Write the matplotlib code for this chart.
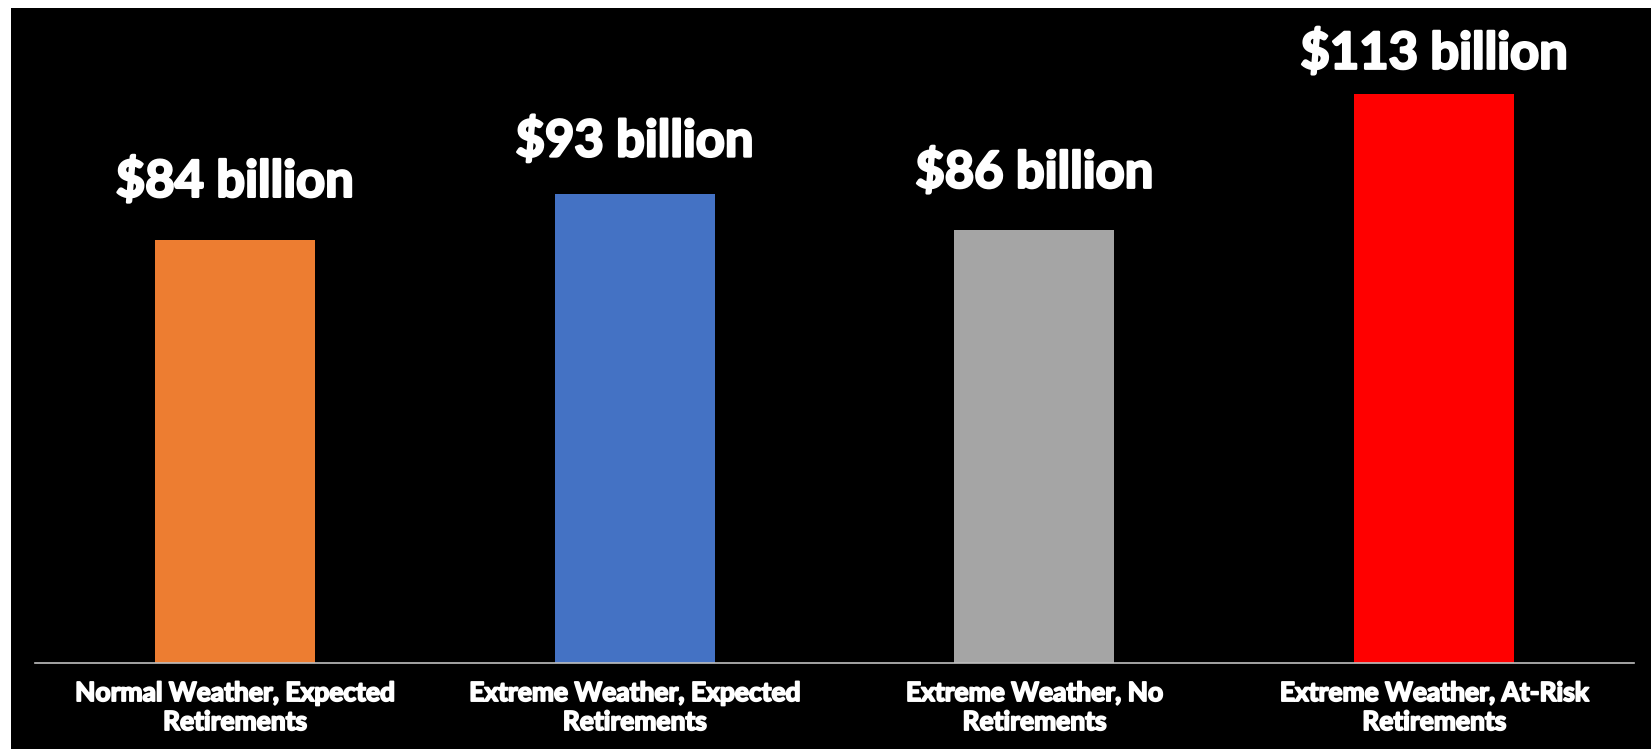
import matplotlib
matplotlib.use("Agg")
import matplotlib.pyplot as plt
import matplotlib.patheffects as pe
from matplotlib.patches import Rectangle

categories = [
    "Normal Weather, Expected\nRetirements",
    "Extreme Weather, Expected\nRetirements",
    "Extreme Weather, No\nRetirements",
    "Extreme Weather, At-Risk\nRetirements",
]
values = [84, 93, 86, 113]  # billions of dollars
value_labels = ["$84 billion", "$93 billion", "$86 billion", "$113 billion"]
colors = ["#ED7D31", "#4472C4", "#A5A5A5", "#FF0000"]
label_gap_px = [43, 38, 42, 25]

W, H = 1651, 749
fig = plt.figure(figsize=(W / 100, H / 100), dpi=100)
fig.patch.set_facecolor("white")
fig.add_artist(Rectangle((11 / W, 0), 1 - 11 / W, (H - 8) / H,
                         transform=fig.transFigure, facecolor="black",
                         edgecolor="none", zorder=0))

ax = fig.add_axes([35 / W, 86 / H, (1634 - 35) / W, (663 - 8) / H])
ax.set_facecolor("black")
ax.patch.set_alpha(0)

x = range(len(values))
ax.bar(x, values, width=0.4, color=colors, zorder=2)
ax.set_xlim(-0.5, 3.5)
ax.set_ylim(0, 130)

thick_big = [pe.withStroke(linewidth=1.8, foreground="white")]
thick_small = [pe.withStroke(linewidth=1.3, foreground="white")]

for xi, v, lab, gap in zip(x, values, value_labels, label_gap_px):
    ax.annotate(lab, (xi, v), xytext=(0, gap * 0.72), textcoords="offset points",
                ha="center", va="baseline", color="white", fontsize=36.5,
                fontfamily="Lato", fontweight="bold", path_effects=thick_big)

ax.set_xticks(list(x))
ax.set_xticklabels(categories, color="white", fontsize=19, fontfamily="Lato",
                   fontweight="bold", linespacing=1.25)
for t in ax.get_xticklabels():
    t.set_path_effects(thick_small)
ax.tick_params(axis="x", length=0, pad=13)
ax.set_yticks([])
for s in ["top", "left", "right"]:
    ax.spines[s].set_visible(False)
ax.spines["bottom"].set_color("#BFBFBF")
ax.spines["bottom"].set_linewidth(1.2)

fig.savefig("out.png", dpi=100, facecolor=fig.get_facecolor())
